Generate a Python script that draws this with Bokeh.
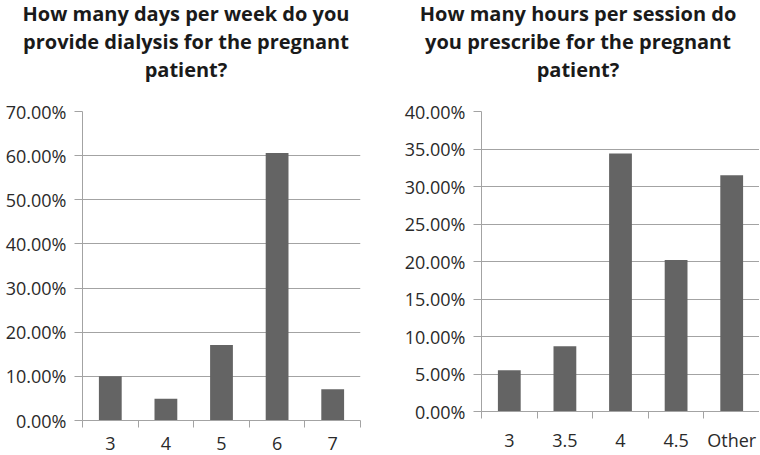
from bokeh.plotting import figure
from bokeh.models import Range1d, FixedTicker, NumeralTickFormatter, Div, ColumnDataSource
from bokeh.layouts import row, column
from bokeh.embed import file_html
from bokeh.resources import INLINE

# Data
days = ["3", "4", "5", "6", "7"]
days_pct = [10.0, 4.9, 17.1, 60.6, 7.1]
hours = ["3", "3.5", "4", "4.5", "Other"]
hours_pct = [5.5, 8.7, 34.4, 20.2, 31.5]

title_left = ["How many days per week do you", "provide dialysis for the pregnant", "patient?"]
title_right = ["How many hours per session do", "you prescribe for the pregnant", "patient?"]
y_max_left = 70
y_max_right = 40
y_step_left = 10
y_step_right = 5

BAR = "#646464"
GRID = "#a3a3a3"
TXT = "#2a2a2a"
FONT = "Open Sans"

TITLE_H = 96
FIG_H = 358


def make_title(lines, width, inner_w, pad_left):
    html = ('<div style="width:%dpx;margin-left:%dpx;text-align:center;white-space:nowrap;'
            'font-family:\'Open Sans\';font-weight:bold;font-size:20px;line-height:28px;color:#1a1a1a;">'
            % (inner_w, pad_left)) + "<br>".join(lines) + "</div>"
    return Div(text=html, width=width, height=TITLE_H, margin=0)


def make_chart(cats, pct, ymax, ystep, width, mb_left, mb_right):
    n = len(cats)
    xs = list(range(1, n + 1))
    src = ColumnDataSource(dict(x=xs, y=[v / 100 for v in pct]))
    p = figure(width=width, height=FIG_H, output_backend="svg", toolbar_location=None,
               x_range=Range1d(0.5, n + 0.5), y_range=Range1d(0, ymax / 100),
               min_border_left=mb_left, min_border_right=mb_right,
               min_border_top=15, min_border_bottom=34, margin=0)
    p.vbar(x="x", top="y", width=0.41, source=src, fill_color=BAR, line_color=None)
    p.outline_line_color = None
    p.background_fill_color = "white"

    # x axis: labels at centers, ticks at category boundaries
    xa = p.xaxis[0]
    xa.ticker = FixedTicker(ticks=xs, minor_ticks=[i + 0.5 for i in range(0, n + 1)])
    xa.major_label_overrides = {x: c for x, c in zip(xs, cats)}
    xa.major_tick_line_color = None
    xa.major_tick_out = 0
    xa.major_tick_in = 0
    xa.minor_tick_line_color = GRID
    xa.minor_tick_out = 7
    xa.minor_tick_in = 0
    xa.axis_line_color = GRID
    xa.major_label_standoff = 9
    xa.major_label_text_font = FONT
    xa.major_label_text_font_size = "18px"
    xa.major_label_text_color = TXT

    ya = p.yaxis[0]
    yt = [i * ystep / 100 for i in range(0, int(ymax / ystep) + 1)]
    ya.ticker = FixedTicker(ticks=yt, minor_ticks=[])
    ya.formatter = NumeralTickFormatter(format="0.00%")
    ya.axis_line_color = GRID
    ya.major_tick_line_color = GRID
    ya.major_tick_out = 8
    ya.major_tick_in = 0
    ya.minor_tick_line_color = None
    ya.major_label_standoff = 8
    ya.major_label_text_font = FONT
    ya.major_label_text_font_size = "18px"
    ya.major_label_text_color = TXT

    p.xgrid.grid_line_color = None
    p.ygrid.ticker = FixedTicker(ticks=yt)
    p.ygrid.grid_line_color = GRID
    p.ygrid.grid_line_width = 1
    return p


p1 = make_chart(days, days_pct, y_max_left, y_step_left, 380, 82, 20)
p2 = make_chart(hours, hours_pct, y_max_right, y_step_right, 379, 101, 0)
t1 = make_title(title_left, 380, 362, 5)
t2 = make_title(title_right, 379, 360, 18)

layout = row(column(t1, p1, spacing=0), column(t2, p2, spacing=0), spacing=0)

open("out.html", "w").write(file_html(layout, INLINE))
